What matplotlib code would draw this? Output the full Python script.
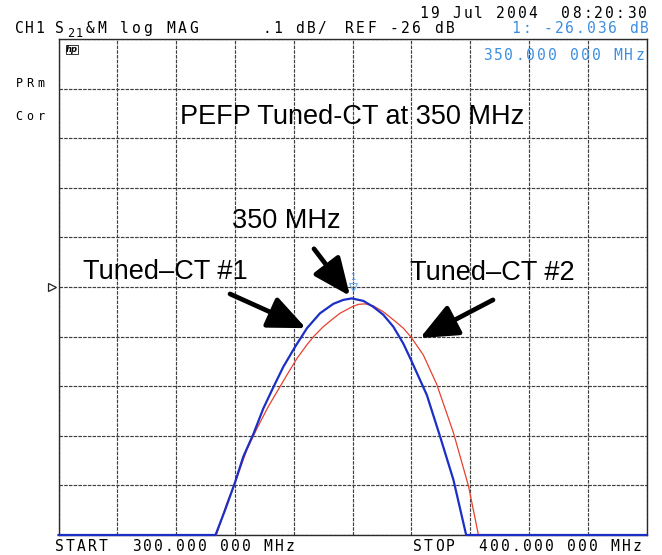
import numpy as np
import matplotlib
matplotlib.use("Agg")
import matplotlib.pyplot as plt

# ---- data ----
blue_freq = [300.0, 326.7, 328.32, 329.96, 331.43, 333.19, 334.83, 336.58, 338.23, 340.27,
             342.26, 344.47, 346.73, 348.43, 349.86, 351.84, 353.54, 355.24, 356.94, 358.64,
             359.95, 362.65, 364.91, 367.17, 369.33, 400.0]
blue_db = [-26.5, -26.5, -26.450, -26.396, -26.342, -26.295, -26.245, -26.201, -26.161, -26.120,
           -26.083, -26.053, -26.034, -26.026, -26.023, -26.028, -26.040, -26.056, -26.080, -26.114,
           -26.147, -26.218, -26.302, -26.389, -26.5, -26.5]

red_freq = [300.0, 326.85, 328.6, 329.96, 332.0, 333.76, 335.68, 337.72, 338.81, 340.56,
            342.21, 343.38, 345.03, 346.78, 347.87, 349.91, 351.0, 352.12, 353.54, 355.24,
            356.94, 358.64, 359.95, 362.04, 364.32, 367.17, 369.72, 371.42, 400.0]
red_db = [-26.5, -26.5, -26.437, -26.397, -26.329, -26.285, -26.241, -26.200, -26.178, -26.144,
          -26.117, -26.100, -26.080, -26.063, -26.053, -26.040, -26.035, -26.034, -26.038, -26.050,
          -26.066, -26.083, -26.101, -26.137, -26.196, -26.294, -26.401, -26.5, -26.5]

x_ticks = np.linspace(300, 400, 11)
y_ticks = np.linspace(-26.5, -25.5, 11)

W, H = 662, 555
fig = plt.figure(figsize=(W / 100, H / 100), dpi=100)
fig.patch.set_facecolor("white")
left, right, top, bottom = 58.5, 646.5, 39.0, 535.0
ax = fig.add_axes([left / W, 1 - bottom / H, (right - left) / W, (bottom - top) / H])
ax.set_xlim(300, 400)
ax.set_ylim(-26.5, -25.5)
ax.set_xticks(x_ticks)
ax.set_yticks(y_ticks)
ax.tick_params(length=0, labelbottom=False, labelleft=False)
ax.grid(True, color="#404040", lw=0.85, linestyle=(0, (3, 1)))
for s in ax.spines.values():
    s.set_color("#2a2a2a")
    s.set_linewidth(1.0)

ax.plot(red_freq, red_db, color="#e8402e", lw=0.9, clip_on=False, zorder=3)
ax.plot(blue_freq, blue_db, color="#1c2fc4", lw=1.6, clip_on=False, zorder=4)

# marker 1
ax.plot([350], [-26.0], marker="v", ms=6, mfc="none", mec="#6aaef0", mew=0.8, zorder=5)
ax.text(350, -25.99, "1", color="#4a90e0", fontsize=6, ha="center", va="bottom")

# reference triangle at left
ax.plot([298.9], [-26.0], marker=">", ms=6, mfc="white", mec="#222", mew=0.9, clip_on=False)

# ---- annotations ----
sans = "Liberation Sans"
fs = 19.5
ax.text(350.0, -25.657, "PEFP Tuned-CT at 350 MHz", fontsize=fs, family=sans,
        ha="center", va="center")
ax.text(338.7, -25.867, "350 MHz", fontsize=fs, family=sans, ha="center", va="center")
ax.text(318.1, -25.970, "Tuned\u2013CT #1", fontsize=fs, family=sans, ha="center", va="center")
ax.text(373.7, -25.972, "Tuned\u2013CT #2", fontsize=fs, family=sans, ha="center", va="center")

arrow_kw = dict(arrowstyle="-|>,head_length=2.3,head_width=1.0", color="black", lw=3.4,
                shrinkA=0, shrinkB=0, mutation_scale=10)
ax.annotate("", xy=(342.09, -26.083), xytext=(329.17, -26.014), arrowprops=arrow_kw)
ax.annotate("", xy=(349.57, -26.018), xytext=(343.45, -25.923), arrowprops=arrow_kw)
ax.annotate("", xy=(361.48, -26.103), xytext=(373.89, -26.026), arrowprops=arrow_kw)

# ---- instrument header / footer text (plotter style, fixed pitch) ----
mono = "DejaVu Sans Mono"
def ptext(x, y, s, pitch=11.0, fontsize=10.5, color="black"):
    for i, ch in enumerate(s):
        if ch == " ":
            continue
        fig.text((x + i * pitch + 4) / W, 1 - y / H, ch, ha="center", va="baseline",
                 family=mono, fontsize=fontsize, color=color)

ptext(420, 18.5, "19 Jul 2004  08:20:30", pitch=10.9)
ptext(15, 33, "CH1 S", pitch=10.2)
ptext(67, 37, "21", pitch=8.5, fontsize=8.5)
ptext(86, 33, "&M log MAG", pitch=11.5)
ptext(263, 33, ".1 dB/")
ptext(345, 33, "REF -26 dB", pitch=11.2)
ptext(512, 33, "1: -26.036 dB", pitch=10.7, color="#3d8fe0")
ptext(483, 60, "350.000 000 MHz", pitch=10.9, color="#3d8fe0")
ptext(15, 87, "PRm", pitch=11, fontsize=8.5)
ptext(15, 120, "Cor", pitch=11, fontsize=8.5)
ptext(55, 551, "START  300.000 000 MHz", pitch=11)
ptext(413, 551, "STOP  400.000 000 MHz", pitch=11)

fig.text(72 / W, 1 - 52.5 / H, "hp", ha="center", va="baseline", fontsize=6,
         fontweight="bold", style="italic", family="DejaVu Sans")
fig.patches.append(plt.Rectangle((66 / W, 1 - 54 / H), 12 / W, 9 / H, fill=False,
                                 ec="#333", lw=0.7, transform=fig.transFigure))

fig.savefig("out.png", dpi=100)
